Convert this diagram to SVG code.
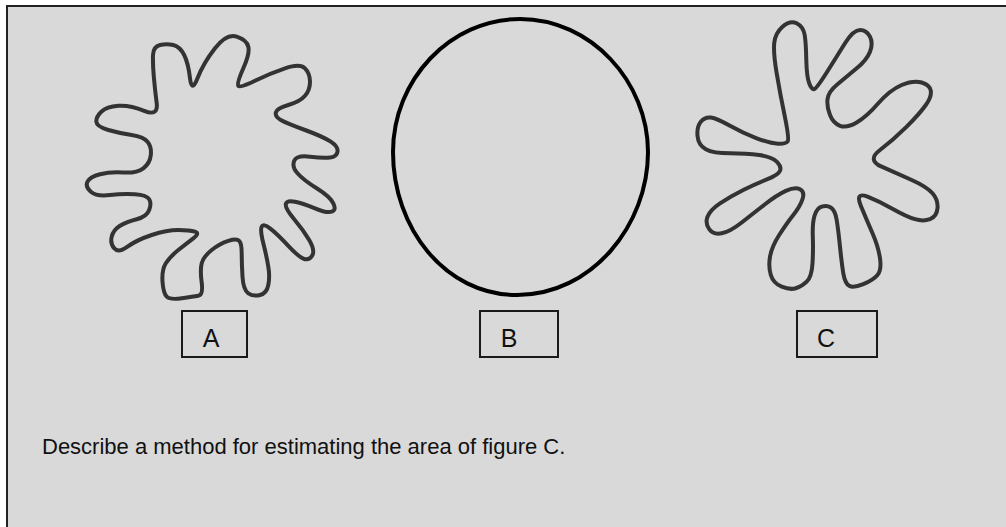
<svg xmlns="http://www.w3.org/2000/svg" width="1006" height="527" viewBox="0 0 1006 527">
<style>
.blob{fill:none;stroke:#333;stroke-width:4;stroke-linejoin:round;stroke-linecap:round}
.lbl{fill:none;stroke:#1a1a1a;stroke-width:2}
.t{font-family:"Liberation Sans",Arial,sans-serif;fill:#111}
.tl{font-size:25px}
.tq{font-size:22px}
</style>
<rect x="0" y="0" width="1006" height="527" fill="#fff"/>
<rect x="7" y="6" width="1010" height="530" fill="#d9d9d9" stroke="#222" stroke-width="2"/>
<g id="figA">
<path class="blob" d="M190,78.3 Q191.7,93.3 197.5,78.3 Q203.3,63.3 215,48.3 Q226.7,33.3 236.7,36.7 Q246.7,40 248.3,46.7 Q250,53.3 243.3,68.3 Q236.7,83.3 238.3,85.8 Q240,88.3 255,80.8 Q270,73.3 285,68.3 Q300,63.3 305,68.3 Q310,73.3 310,81.7 Q310,90 305,95.8 Q300,101.7 288.3,105 Q276.7,108.3 275.8,112.5 Q275,116.7 280.8,120 Q286.7,123.3 305,130 Q323.3,136.7 330.8,141.7 Q338.3,146.7 337.5,151.7 Q336.7,156.7 330,157.5 Q323.3,158.3 310,156.7 Q296.7,155 294.2,160.8 Q291.7,166.7 297.5,173.3 Q303.3,180 316.7,188.3 Q330,196.7 333.3,203.3 Q336.7,210 331.7,211.7 Q326.7,213.3 315,208.3 Q303.3,203.3 295,201.7 Q286.7,200 285.8,204.2 Q285,208.3 294.2,219.2 Q303.3,230 309.2,240 Q315,250 312.5,255 Q310,260 305,259.2 Q300,258.3 288.3,245.8 Q276.7,233.3 270,228.3 Q263.3,223.3 261.7,226.7 Q260,230 263.3,243.3 Q266.7,256.7 268.3,266.7 Q270,276.7 268.3,285 Q266.7,293.3 260,295 Q253.3,296.7 248.3,293.3 Q243.3,290 242.5,276.7 Q241.7,263.3 241.7,253.3 Q241.7,243.3 239.2,240.8 Q236.7,238.3 228.3,240.8 Q220,243.3 211.7,250 Q203.3,256.7 201.7,263.3 Q200,270 201.7,282.5 Q203.3,295 198.3,295.8 Q193.3,296.7 181.7,298.3 Q170,300 166.7,296.7 Q163.3,293.3 162.5,281.7 Q161.7,270 165.8,263.3 Q170,256.7 178.3,250 Q186.7,243.3 193.3,238.3 Q200,233.3 195,231.7 Q190,230 178.3,230 Q166.7,230 151.7,235 Q136.7,240 127.5,246.7 Q118.3,253.3 114.2,248.3 Q110,243.3 111.7,236.7 Q113.3,230 120,225.8 Q126.7,221.7 136.7,219.2 Q146.7,216.7 149.2,210 Q151.7,203.3 149.2,199.2 Q146.7,195 135,194.2 Q123.3,193.3 110,195 Q96.7,196.7 90.8,191.7 Q85,186.7 87.5,181.7 Q90,176.7 100,174.2 Q110,171.7 123.3,172.5 Q136.7,173.3 143.3,168.3 Q150,163.3 150.8,155 Q151.7,146.7 147.5,141.7 Q143.3,136.7 131.7,135 Q120,133.3 108.3,130 Q96.7,126.7 96.3,121.7 Q96,116.7 101.3,111.7 Q106.7,106.7 118.3,105.8 Q130,105 144.2,110.8 Q158.3,116.7 156.7,103.3 Q155,90 153.8,76.7 Q152.7,63.3 153,55 Q153.3,46.7 160,45 Q166.7,43.3 173.3,45 Q180,46.7 184.2,55 Q188.3,63.3 190,78.3 Z"/>
</g>
<g id="figB">
<path d="M520,19 C591,19 648,82 648,152 C648,225 592,295 517,295 C445,295 393,228 393,152 C393,80 450,19 520,19 Z" fill="none" stroke="#000" stroke-width="4"/>
</g>
<g id="figC">
<path class="blob" d="M787.7,141.2 Q789.3,138.3 784.7,115.8 Q780,93.3 776.7,73.3 Q773.3,53.3 774.2,43.3 Q775,33.3 782.5,26.7 Q790,20 796.7,23.3 Q803.3,26.7 804.7,35 Q806,43.3 806.3,60 Q806.7,76.7 809.2,83.3 Q811.7,90 814.2,89.2 Q816.7,88.3 826.7,72.5 Q836.7,56.7 845,43.3 Q853.3,30 860,30 Q866.7,30 870,36.7 Q873.3,43.3 870,51.7 Q866.7,60 856.7,68.3 Q846.7,76.7 837.5,84.2 Q828.3,91.7 827.5,99.2 Q826.7,106.7 830,115 Q833.3,123.3 840,125.8 Q846.7,128.3 856.7,122.5 Q866.7,116.7 878.3,103.3 Q890,90 901.7,85 Q913.3,80 921.7,82.5 Q930,85 930.8,90.8 Q931.7,96.7 925.8,105 Q920,113.3 906.7,126.7 Q893.3,140 880,150 Q866.7,160 881.7,166.7 Q896.7,173.3 911.7,180 Q926.7,186.7 932.5,193.3 Q938.3,200 937.5,208.3 Q936.7,216.7 930,219.2 Q923.3,221.7 915,219.2 Q906.7,216.7 893.3,209.2 Q880,201.7 867.5,196.7 Q855,191.7 860.8,205.8 Q866.7,220 872.5,233.3 Q878.3,246.7 880,258.3 Q881.7,270 877.5,275 Q873.3,280 863.3,284.2 Q853.3,288.3 849.2,285.8 Q845,283.3 843.3,273.3 Q841.7,263.3 840,246.7 Q838.3,230 836.7,220 Q835,210 830.8,207.5 Q826.7,205 821.7,206.7 Q816.7,208.3 814.5,215.8 Q812.3,223.3 812.8,236.7 Q813.3,250 812.5,263.3 Q811.7,276.7 806.7,281.7 Q801.7,286.7 795.8,288.3 Q790,290 781.7,286.7 Q773.3,283.3 770.8,275 Q768.3,266.7 770,256.7 Q771.7,246.7 779.2,235 Q786.7,223.3 793.3,215 Q800,206.7 802.5,199.2 Q805,191.7 800,189.2 Q795,186.7 785.8,190.8 Q776.7,195 765,204.2 Q753.3,213.3 741.7,222.5 Q730,231.7 721.7,233.3 Q713.3,235 709.2,229.2 Q705,223.3 707.5,216.7 Q710,210 720,203.3 Q730,196.7 743.3,190 Q756.7,183.3 767.5,179.2 Q778.3,175 780,170.8 Q781.7,166.7 776.7,161.7 Q771.7,156.7 759.2,155 Q746.7,153.3 730,153.3 Q713.3,153.3 705.8,149.2 Q698.3,145 697.5,135.8 Q696.7,126.7 700.8,121.7 Q705,116.7 710.8,117.5 Q716.7,118.3 730,125.8 Q743.3,133.3 756.7,138.3 Q770,143.3 778,143.7 Q786,144 787.7,141.2 Z"/>
</g>
<g id="labelA">
<rect class="lbl" x="182" y="311" width="65" height="46"/>
<text class="t tl" x="211" y="347" text-anchor="middle">A</text>
</g>
<g id="labelB">
<rect class="lbl" x="480" y="311" width="78" height="46"/>
<text class="t tl" x="509" y="347" text-anchor="middle">B</text>
</g>
<g id="labelC">
<rect class="lbl" x="797" y="311" width="80" height="46"/>
<text class="t tl" x="826" y="347" text-anchor="middle">C</text>
</g>
<g id="question">
<text class="t tq" x="42" y="454">Describe a method for estimating the area of figure C.</text>
</g>
<g id="connectors"/>
</svg>
